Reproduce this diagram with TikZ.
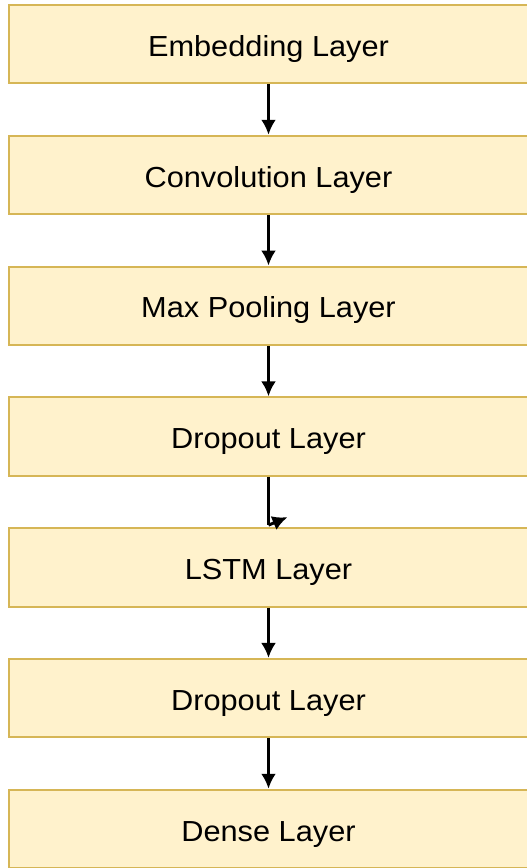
\documentclass[tikz,border=0pt]{standalone}
\usepackage{fontspec}
\setmainfont[FakeStretch=1.06]{Liberation Sans}
\usetikzlibrary{arrows.meta, positioning}
\definecolor{LayerFill}{HTML}{FFF2CC}
\definecolor{LayerLine}{HTML}{D6B656}

\begin{document}
\begin{tikzpicture}[node distance=25.15pt,
    layer/.style={draw=LayerLine, fill=LayerFill, line width=1pt, minimum width=259.5pt, minimum height=39.25pt, inner sep=0pt, text height=12pt, text depth=0pt, font=\fontsize{14.5}{17}\selectfont},
    flow/.style={-{Latex[length=7.5pt, width=7.5pt]}, line width=1.5pt, black}]
    \useasboundingbox (0,0) rectangle (263pt,-434pt);
    \fill[white] (0,0) rectangle (263pt,-434pt);

    % layer stack, top to bottom
    \node[layer] (emb) at (134.25pt,-22.1pt) {Embedding Layer};
    \node[layer, below=of emb] (conv) {Convolution Layer};
    \node[layer, below=of conv] (pool) {Max Pooling Layer};
    \node[layer, below=of pool] (drop1) {Dropout Layer};
    \node[layer, below=of drop1] (lstm) {LSTM Layer};
    \node[layer, below=of lstm] (drop2) {Dropout Layer};
    \node[layer, below=of drop2] (dense) {Dense Layer};

    % Arrows
    \draw[flow] (emb) -- (conv);
    \draw[flow] (conv) -- (pool);
    \draw[flow] (pool) -- (drop1);
    \coordinate (kink) at ([yshift=1pt]lstm.north);
    \coordinate (kinkend) at ([shift={(9.5pt,4pt)}]kink);
    \draw[line width=1.5pt] (drop1) -- (kink);
    \draw[flow] (kink) -- (kinkend);
    \draw[flow] (lstm) -- (drop2);
    \draw[flow] (drop2) -- (dense);
\end{tikzpicture}
\end{document}
